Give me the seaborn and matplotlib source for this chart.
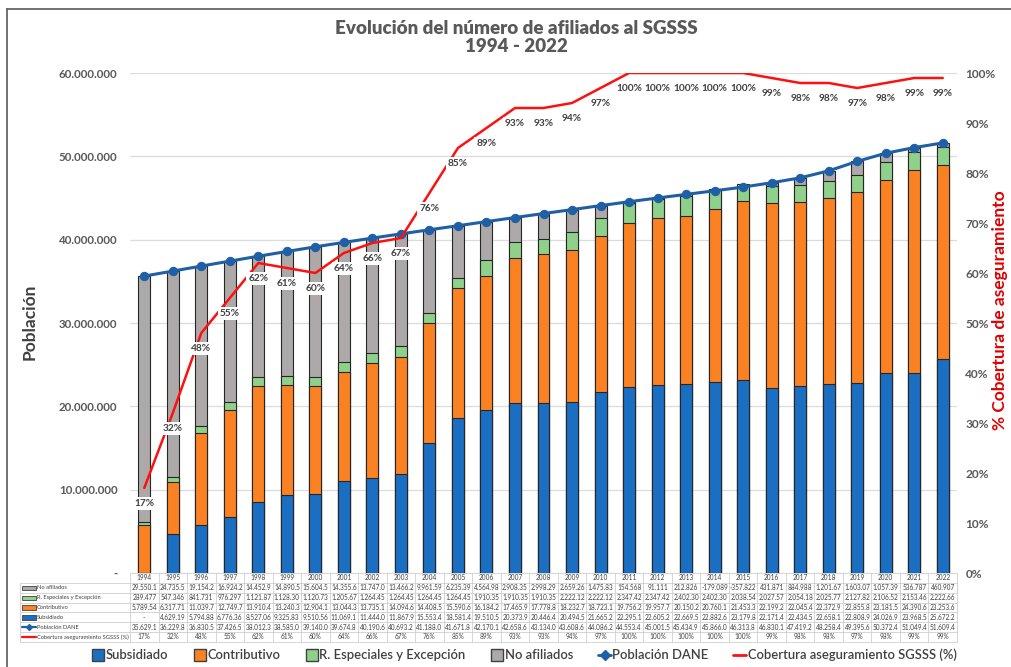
import numpy as np
import matplotlib
matplotlib.use("Agg")
import matplotlib.pyplot as plt
import matplotlib.transforms as mtransforms
from matplotlib.lines import Line2D
from matplotlib.patches import Rectangle
import seaborn as sns

# ---------------- data (thousands of persons) ----------------
years = [str(y) for y in range(1994, 2023)]
no_afiliados = [29550.1, 24735.5, 19154.2, 16924.2, 14452.9, 14890.5, 15604.5, 14355.6, 13747.0, 13466.2,
                9961.59, 6235.39, 4564.98, 2908.35, 2998.29, 2659.26, 1475.83, 154.568, 91.111, 212.826,
                -179.089, -357.822, 431.871, 884.988, 1201.67, 1603.07, 1057.39, 536.787, 460.907]
especiales = [289.477, 547.346, 841.731, 976.297, 1121.87, 1128.30, 1120.73, 1205.67, 1264.45, 1264.45,
              1264.45, 1264.45, 1910.35, 1910.35, 1910.35, 2222.12, 2222.12, 2347.42, 2347.42, 2402.30,
              2402.30, 2038.54, 2027.57, 2054.18, 2025.77, 2127.82, 2106.52, 2153.46, 2222.66]
contributivo = [5789.54, 6317.71, 11039.7, 12749.7, 13910.4, 13240.3, 12904.1, 13044.3, 13735.1, 14094.6,
                14408.5, 15590.6, 16184.2, 17465.9, 17778.8, 18232.7, 18723.1, 19756.2, 19957.7, 20150.2,
                20760.1, 21453.3, 22199.2, 22045.4, 22372.9, 22855.8, 23181.5, 24390.6, 23253.6]
subsidiado = [np.nan, 4629.19, 5794.88, 6776.36, 8527.06, 9325.83, 9510.56, 11069.1, 11444.0, 11867.9,
              15553.4, 18581.4, 19510.5, 20373.9, 20446.4, 20494.5, 21665.2, 22295.1, 22605.2, 22669.5,
              22882.6, 23179.8, 22171.4, 22434.5, 22658.1, 22808.9, 24026.9, 23968.5, 25672.2]
poblacion = [35629.1, 36229.8, 36830.5, 37426.5, 38012.3, 38585.0, 39140.0, 39674.8, 40190.6, 40693.2,
             41188.0, 41671.8, 42170.1, 42658.6, 43134.0, 43608.6, 44086.2, 44553.4, 45001.5, 45434.9,
             45866.0, 46313.8, 46830.1, 47419.2, 48258.4, 49395.6, 50372.4, 51049.4, 51609.4]
cobertura = [17, 32, 48, 55, 62, 61, 60, 64, 66, 67, 76, 85, 89, 93, 93, 94, 97, 100, 100, 100,
             100, 100, 99, 98, 98, 97, 98, 99, 99]

left_ticks = [0, 10e6, 20e6, 30e6, 40e6, 50e6, 60e6]
left_tick_labels = ['-', '10.000.000', '20.000.000', '30.000.000', '40.000.000', '50.000.000', '60.000.000']
right_ticks = [0, 10, 20, 30, 40, 50, 60, 70, 80, 90, 100]
right_tick_labels = [f'{t}%' for t in right_ticks]

title_lines = ['Evolución del número de afiliados al SGSSS', '1994 - 2022']
series_names = ['Subsidiado', 'Contributivo', 'R. Especiales y Excepción', 'No afiliados',
                'Población DANE', 'Cobertura aseguramiento SGSSS (%)']

# ---------------- colours ----------------
C_SUB = '#1B6FC2'
C_CON = '#FB8223'
C_ESP = '#8FD18A'
C_NOA = '#AEA9A9'
C_POB = '#1F5FA6'
C_COB = '#FF1010'
EDGE = '#262626'
TXT = '#595959'

sns.set_theme(style='white')
plt.rcParams['font.family'] = ['Lato', 'DejaVu Sans']

W, H = 1011, 667
fig = plt.figure(figsize=(W / 100, H / 100), dpi=100)
ax = fig.add_axes([130 / W, 1 - 573 / H, (957 - 130) / W, (573 - 73) / H])

n = len(years)
k = 1000.0
sub = np.nan_to_num(np.array(subsidiado)) * k
c1 = sub
c2 = c1 + np.array(contributivo) * k
c3 = c2 + np.array(especiales) * k
c4 = c3 + np.array(no_afiliados) * k

for vals, col in [(c4, C_NOA), (c3, C_ESP), (c2, C_CON), (c1, C_SUB)]:
    sns.barplot(x=years, y=vals, color=col, saturation=1, width=0.42,
                edgecolor=EDGE, linewidth=0.8, ax=ax, zorder=2)

pos = np.arange(n)
sns.lineplot(x=pos, y=np.array(poblacion) * k, color=C_POB, lw=2.2, marker='o',
             markersize=6, markeredgecolor=C_POB, ax=ax, zorder=4)

ax.set_xlim(-0.5, n - 0.5)
ax.set_ylim(0, 60e6)
ax.set_yticks(left_ticks)
ax.set_yticklabels(left_tick_labels, fontweight='bold', color=TXT, fontsize=8.3)
ax.tick_params(axis='y', length=0, pad=9)
ax.tick_params(axis='x', length=0, labelbottom=False)
ax.set_xlabel('')
ax.set_ylabel('')
ax.yaxis.grid(True, color='#dcdcdc', lw=0.9)
ax.set_axisbelow(True)
for s in ax.spines.values():
    s.set_visible(False)

ax2 = ax.twinx()
sns.lineplot(x=pos, y=cobertura, color=C_COB, lw=1.8, ax=ax2, zorder=5)
ax2.set_ylim(0, 100)
ax2.set_xlim(-0.5, n - 0.5)
ax2.set_yticks(right_ticks)
ax2.set_yticklabels(right_tick_labels, fontweight='bold', color=TXT, fontsize=8.6)
ax2.tick_params(axis='y', length=0, pad=6)
ax2.set_ylabel('')
ax2.grid(False)
for s in ax2.spines.values():
    s.set_visible(False)

for i, v in enumerate(cobertura):
    ax2.annotate(f'{v}%', (pos[i], v), xytext=(0, -11), textcoords='offset points',
                 ha='center', va='center', fontsize=7.3, fontweight='bold', color='#404040',
                 bbox=dict(boxstyle='square,pad=0.2', fc='white', ec='none'), zorder=6)

# ---------------- titles / labels ----------------
fig.text(516 / W, 1 - 28 / H, title_lines[0], ha='center', va='center', fontsize=13.5,
         fontweight='heavy', color=TXT)
fig.text(516 / W, 1 - 47 / H, title_lines[1], ha='center', va='center', fontsize=13.5,
         fontweight='heavy', color=TXT)
fig.text(30 / W, 1 - 322 / H, 'Población', rotation=90, ha='center', va='center',
         fontsize=12.5, fontweight='bold', color='#404040')
fig.text(1000 / W, 1 - 310 / H, '% Cobertura de aseguramiento', rotation=90, ha='center',
         va='center', fontsize=12.5, fontweight='bold', color='#E00000')

# ---------------- data table ----------------
def fmt(v):
    if v is None or (isinstance(v, float) and np.isnan(v)):
        return '-'
    num = int(round(v * 1000))
    neg = num < 0
    s = f'{abs(num):,}'.replace(',', '.')
    out, cnt = '', 0
    for ch in s:
        if ch.isdigit():
            if cnt >= 6:
                break
            cnt += 1
        out += ch
    out = out.rstrip('.')
    return ('-' if neg else '') + out

trans = mtransforms.blended_transform_factory(ax.transData, fig.transFigure)
fy = lambda p: 1 - p / H
grid_c = '#cfcfcf'
top, hdr_h, row_h = 573, 10, 9.8
rows = [no_afiliados, especiales, contributivo, subsidiado, poblacion, cobertura]
row_labels = ['No afiliados', 'R. Especiales y Excepción', 'Contributivo', 'Subsidiado',
              'Población DANE', 'Cobertura aseguramiento SGSSS (%)']
tfs = 4.7
for i, y in enumerate(years):
    fig.text(i, fy(top + hdr_h / 2), y, transform=trans, ha='center', va='center',
             fontsize=tfs, color='#404040')
ys = [top] + [top + hdr_h + j * row_h for j in range(len(rows) + 1)]
fig.add_artist(Line2D([-0.5, n - 0.5], [fy(top), fy(top)], transform=trans, color=grid_c, lw=0.6))
for yline in ys[1:]:
    fig.add_artist(Line2D([20 / W, 957 / W], [fy(yline), fy(yline)], color=grid_c, lw=0.6))
for i in range(n + 1):
    fig.add_artist(Line2D([i - 0.5, i - 0.5], [fy(top), fy(ys[-1])], transform=trans,
                          color=grid_c, lw=0.6))
fig.add_artist(Line2D([20 / W, 20 / W], [fy(ys[1]), fy(ys[-1])], color=grid_c, lw=0.6))

key_cols = [C_NOA, C_ESP, C_CON, C_SUB]
for r, (vals, lab) in enumerate(zip(rows, row_labels)):
    yc = fy(top + hdr_h + (r + 0.5) * row_h)
    for i, v in enumerate(vals):
        txt = f'{v}%' if r == 5 else fmt(v)
        fig.text(i, yc, txt, transform=trans, ha='center', va='center', fontsize=tfs, color='#404040')
    fig.text(37 / W, yc, lab, ha='left', va='center', fontsize=4.15, color='#404040')
    if r < 4:
        fig.add_artist(Rectangle((22 / W, yc - 2.2 / H), 14 / W, 4.4 / H, fc=key_cols[r],
                                 ec='#404040', lw=0.6))
    elif r == 4:
        fig.add_artist(Line2D([22 / W, 36 / W], [yc, yc], color=C_POB, lw=1.6))
        fig.add_artist(Line2D([29 / W], [yc], color=C_POB, marker='D', markersize=3))
    else:
        fig.add_artist(Line2D([22 / W, 36 / W], [yc, yc], color=C_COB, lw=1.6))

# ---------------- legend ----------------
handles = [
    Line2D([], [], ls='none', marker='s', markersize=9, markerfacecolor=C_SUB, markeredgecolor='#404040'),
    Line2D([], [], ls='none', marker='s', markersize=9, markerfacecolor=C_CON, markeredgecolor='#404040'),
    Line2D([], [], ls='none', marker='s', markersize=9, markerfacecolor=C_ESP, markeredgecolor='#404040'),
    Line2D([], [], ls='none', marker='s', markersize=9, markerfacecolor=C_NOA, markeredgecolor='#404040'),
    Line2D([], [], color=C_POB, lw=2, marker='D', markersize=5),
    Line2D([], [], color=C_COB, lw=2),
]
leg = fig.legend(handles, series_names, loc='center', bbox_to_anchor=(524 / W, fy(655)), ncol=6,
                 frameon=False, fontsize=9.4, handlelength=1.0, handletextpad=0.1, columnspacing=1.9)
for t in leg.get_texts():
    t.set_color('#404040')
    t.set_fontweight('semibold')

fig.add_artist(Line2D([7 / W, 7 / W], [0, fy(9)], color='#595959', lw=1.2))
fig.add_artist(Line2D([7 / W, 1], [fy(9), fy(9)], color='#595959', lw=1.2))

fig.savefig('out.png', dpi=100)
